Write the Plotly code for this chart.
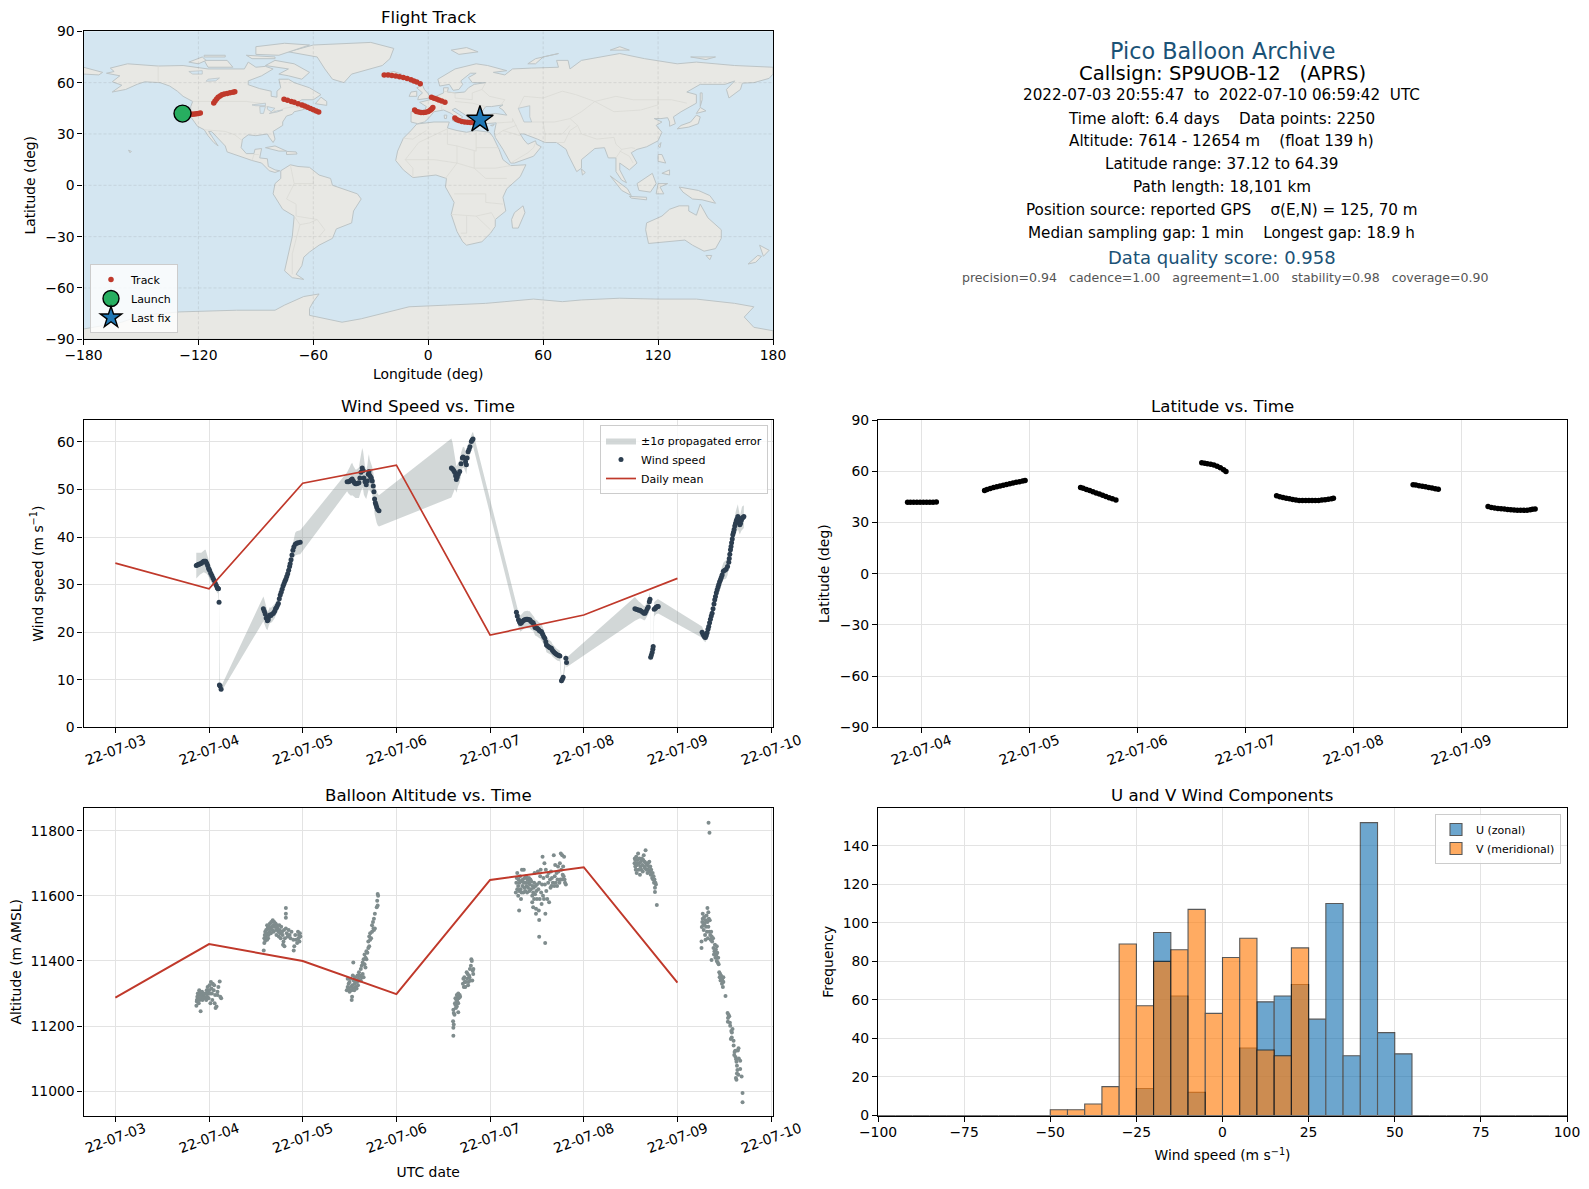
#load in packages
import numpy as np
import pandas as pd
import plotly.graph_objects as go

W = 1589
H = 1189

#colours
water_color = '#d4e6f1'
land_color = '#e8e8e4'
coast_color = '#bcc4c6'
border_color = '#dadad6'
red = '#c0392b'
navy = '#2c3e50'
gray = '#7f8c8d'
title_blue = '#1a5276'
grid_color = '#e3e3e3'

#summary text in the top right corner: text, centre x and y in px, size, colour
info_text = ['Pico Balloon Archive',
             'Callsign: SP9UOB-12   (APRS)',
             '2022-07-03 20:55:47  to  2022-07-10 06:59:42  UTC',
             'Time aloft: 6.4 days    Data points: 2250',
             'Altitude: 7614 - 12654 m    (float 139 h)',
             'Latitude range: 37.12 to 64.39',
             'Path length: 18,101 km',
             'Position source: reported GPS    σ(E,N) = 125, 70 m',
             'Median sampling gap: 1 min    Longest gap: 18.9 h',
             'Data quality score: 0.958',
             'precision=0.94   cadence=1.00   agreement=1.00   stability=0.98   coverage=0.90']
info_x = [1222, 1222, 1221.5, 1221.5, 1221.5, 1221.5, 1221.5, 1221.5, 1221.5, 1221.5, 1225]
info_y = [50.5, 73.3, 95.5, 118.8, 140.9, 163.9, 187.2, 210, 233, 257.5, 277.5]
info_size = [22.3, 19.6, 15.2, 15.2, 15.2, 15.2, 15.2, 15.2, 15.2, 18, 12.55]
info_color = [title_blue, 'black', 'black', 'black', 'black', 'black', 'black', 'black', 'black', title_blue, '#555555']

#ground track, lon / lat in degrees
track_lon = [-128, -127, -126, -125, -124, -123, -122, -121, -120, -119,
             -112, -111.3, -110.5, -109.7, -108.7, -107.7, -106.5, -105, -103.5, -102, -101,
             -75.3, -73.5, -71.5, -70, -68, -66, -64.5, -63, -61.5, -60, -58.5, -57.2,
             -23, -21, -19, -17, -15, -13, -11, -9, -7.5, -6, -4.2,
             -7.1, -6.2, -5, -3.8, -2.5, -1.3, 0, 1, 1.8, 2.4,
             1.7, 3, 4.3, 5.5, 7, 8.7,
             13.9, 14.8, 16, 17.5, 19, 20.5, 22, 23.5, 25, 26, 27]
track_lat = [41.8, 41.8, 41.8, 41.7, 41.6, 41.5, 41.6, 41.8, 42, 42.2,
             48.1, 49.3, 50.4, 51.4, 52.2, 52.9, 53.3, 53.7, 54.1, 54.4, 54.6,
             50.3, 49.7, 49, 48.5, 47.7, 47, 46.3, 45.6, 44.9, 44.2, 43.4, 42.9,
             64.5, 64.5, 64.2, 63.9, 63.5, 63, 62.4, 61.7, 61, 60.3, 59.4,
             44, 43.2, 42.8, 42.6, 42.5, 42.7, 43.2, 43.8, 44.6, 45.4,
             51.4, 50.9, 50.5, 49.9, 49.3, 48.6,
             39.3, 38.4, 37.8, 37.3, 37, 36.8, 36.7, 36.6, 37, 37.6, 38.4]
launch_lon = [-128.3]
launch_lat = [41.9]
last_lon = [27]
last_lat = [38.4]

#land outlines
north_america = [(-168, 65.5), (-164, 66.5), (-166, 68.5), (-157, 71), (-141, 69.7), (-128, 70), (-115, 68), (-108, 68),
                 (-96, 68), (-94, 72), (-90, 69), (-85, 69.5), (-81, 68), (-87, 64), (-94, 61), (-94, 58.8), (-88, 56.5),
                 (-82, 55), (-82, 52), (-79, 51.5), (-79, 55), (-77, 57), (-78, 62), (-73, 62), (-70, 60), (-66, 58.5),
                 (-62, 57), (-56, 53), (-60, 50), (-66, 50), (-70, 47), (-65, 48.5), (-65, 46), (-61, 46), (-66, 44),
                 (-70, 43), (-71, 41.5), (-74, 40.5), (-76, 37), (-76, 35), (-81, 31.5), (-80, 27), (-81, 25), (-83, 28),
                 (-84, 30), (-90, 29), (-94, 29.5), (-97, 27), (-97.7, 22), (-95, 18.5), (-91, 18.5), (-90.5, 21), (-87, 21.5),
                 (-88, 16), (-84, 15.5), (-83.5, 11), (-80, 9), (-77.5, 8.5), (-80, 7.5), (-83, 8.5), (-87, 13), (-92, 14.5),
                 (-96, 16), (-105, 19.5), (-106, 23), (-110, 27.5), (-113, 31.3), (-114.7, 31.5), (-112, 27), (-109.7, 23),
                 (-112, 25), (-115, 29), (-117, 32.5), (-120.5, 34.5), (-124, 40), (-124, 46), (-123, 49), (-128, 52),
                 (-131, 55), (-135, 58), (-140, 60), (-148, 60.5), (-152, 59), (-158, 56), (-165, 54.5), (-160, 58.5),
                 (-165, 60.5), (-161, 64)]
south_america = [(-77, 8.5), (-72, 12), (-68, 11), (-62, 10.5), (-57, 6), (-51, 4), (-50, 0), (-44, -2.5), (-37, -5), (-35, -8),
                 (-39, -15), (-40, -22), (-48, -25.5), (-50, -31), (-57, -35), (-62, -39), (-65, -42), (-66, -47), (-69, -52),
                 (-65, -55), (-71, -54), (-75, -50), (-73, -40), (-71, -30), (-70, -18), (-76, -14), (-81, -5), (-80, 1), (-77, 4)]
africa = [(-6, 35.8), (3, 37), (11, 37), (10, 33.5), (15, 32), (20, 31), (25, 32), (32, 31), (34, 28), (37, 21), (39, 15),
          (43, 11.5), (51, 12), (48, 5), (41, -2), (39, -7), (40.5, -15), (35, -20), (35, -24), (32.5, -28), (28, -33), (20, -35),
          (18, -33), (15, -27), (12, -17), (13.5, -10), (9, -1), (9.5, 4), (4, 6), (-4, 5), (-8, 4.5), (-13, 9), (-17, 14.5),
          (-16, 20), (-13, 27.5), (-9, 32)]
eurasia = [(-9, 37), (-9, 43), (-2, 43.5), (-1, 46), (-4.5, 48.5), (1, 50), (4, 52), (8, 54), (8, 57), (10.5, 57), (10, 54.5),
           (14, 54), (19, 54.5), (21, 57), (24, 59), (30, 60), (23, 60), (21, 63), (25, 65.5), (22, 65.5), (17, 61), (18, 59),
           (16, 56), (13, 55.5), (11, 59), (6, 58), (5, 62), (14, 68), (25, 71), (31, 70), (41, 67), (34, 66), (40, 64.5),
           (44, 68), (54, 68.5), (68, 69), (67, 73), (73, 73), (74, 68), (80, 73), (100, 77), (113, 74), (130, 71), (140, 72),
           (160, 70), (180, 69), (180, 65), (178, 62.5), (170, 60), (164, 59.7), (163, 56), (157, 51), (155.7, 56), (160, 61),
           (155, 59), (142, 59), (135, 54.5), (140, 53), (140, 48), (132, 43), (128, 40), (129, 36), (126, 34.5), (126, 37),
           (125, 39.5), (121.5, 39), (118, 39), (122, 37), (119, 35), (122, 31), (120, 26), (114, 22.5), (109, 21), (106, 19),
           (109, 13), (105, 9), (100, 13), (100, 9), (103.5, 1.5), (101, 3), (98, 8), (98, 16), (94, 16), (92, 22), (87, 21.5),
           (80, 15), (80, 10), (77.5, 8), (73, 18), (72, 21), (67, 25), (61, 25), (57, 27), (50, 30), (48, 30), (50, 26.5),
           (52, 24), (56, 26), (56.5, 24), (59, 22.5), (55, 17), (45, 13), (43, 13), (39, 21), (35, 28), (34.5, 31), (35.5, 36.5),
           (30, 36), (27, 37), (26, 40), (29, 41), (35, 42), (41, 41), (39, 44), (37, 45.5), (39, 47), (33, 46), (30, 46),
           (28, 43), (26, 41), (23, 40.5), (23, 37), (19.5, 41), (14, 45), (12.5, 44), (18, 40), (16, 38), (12, 42), (8, 44),
           (3, 43), (0, 39), (-2, 37), (-5.5, 36)]
australia = [(114, -22), (122, -18), (126, -14), (131, -12), (136, -12), (136, -15), (140, -17.5), (142, -11), (146, -19),
             (153, -26), (153, -31), (150, -37), (144, -38.5), (138, -35), (134, -32), (124, -33), (115, -34), (113.5, -26)]
antarctica = [(-180, -90), (-180, -84), (-160, -80), (-150, -76), (-130, -74), (-100, -73), (-80, -73), (-75, -70), (-65, -65),
              (-57, -63.5), (-60, -68), (-62, -72), (-62, -76), (-45, -80), (-35, -78), (-20, -74), (-10, -71), (10, -70), (30, -69),
              (40, -68), (55, -66.5), (70, -68), (80, -67), (100, -66), (120, -66.5), (140, -66.5), (160, -69), (170, -71),
              (165, -77), (170, -83), (180, -85), (180, -90)]
greenland = [(-73, 78), (-60, 82), (-30, 83.5), (-18, 80), (-20, 74), (-24, 70), (-40, 65), (-44, 60), (-50, 62), (-54, 68), (-58, 75)]
islands = [[(-80, 73), (-70, 71), (-62, 66), (-66, 62), (-73, 64), (-78, 65), (-73, 68), (-85, 70)],
           [(-117, 73), (-105, 73), (-102, 69), (-115, 69)],
           [(-90, 76.5), (-78, 76), (-62, 82), (-75, 83), (-90, 81)],
           [(-125, 72), (-118, 75), (-116, 73), (-120, 71)],
           [(-95, 76), (-80, 75), (-80, 74), (-92, 74)],
           [(-117, 76), (-106, 76), (-106, 75), (-117, 75)],
           [(-59, 47.7), (-53, 46.7), (-53, 49), (-56, 51.5)],
           [(-85, 22), (-80, 23), (-74, 20), (-78, 20)],
           [(-74, 19.8), (-69, 19.5), (-68.5, 18.3), (-74, 18)],
           [(-156.5, 20.5), (-155, 19.8), (-155.7, 19)],
           [(-180, 69), (-170, 66), (-172, 64.5), (-180, 65)],
           [(49.5, -12), (50.5, -16), (47, -25), (44, -25), (43.5, -20), (45, -16)],
           [(-5.5, 50), (1, 51), (0, 53.5), (-2, 56), (-3, 58.5), (-6, 57), (-3, 54), (-5, 52)],
           [(-10, 52), (-6, 52), (-6, 55), (-9, 54.5)],
           [(-24, 65), (-18, 66.5), (-14, 65), (-19, 63.5)],
           [(12, 79), (20, 80.5), (26, 78), (16, 76.5)],
           [(52, 71), (56, 74), (68, 77), (60, 75), (56, 71)],
           [(95, 79), (105, 79), (100, 81)],
           [(137, 75), (150, 75), (145, 73.5)],
           [(130, 33), (136, 34), (141, 36), (142, 40), (140, 41), (137, 37), (132, 35)],
           [(140, 42), (145, 43.5), (142, 45.5)],
           [(142, 46), (143, 50), (143, 54), (142, 54)],
           [(120, 23), (121.5, 25), (121, 22)],
           [(80, 9.5), (82, 7.5), (80.5, 6)],
           [(109, 1), (117, 7), (119, 1), (116, -4), (110, -3)],
           [(95, 5.5), (104, -2), (106, -6), (101, -3)],
           [(105, -6.5), (114, -7), (114, -8.5), (106, -7.5)],
           [(119, -5), (120, 1), (125, 1), (121, -1), (123, -5)],
           [(131, -1), (141, -3), (147, -6), (150, -10.5), (143, -8.5), (138, -8), (133, -4)],
           [(120, 18), (122, 18), (124, 13), (120, 14)],
           [(122, 7), (126, 9), (126, 6)],
           [(145, -41), (148, -41), (147, -43.5)],
           [(167, -46), (172, -41), (174, -41.5), (171, -45)],
           [(173, -35), (178, -38), (175, -41.5), (174, -38)],
           [(12.5, 38), (15.5, 38), (15, 36.7)],
           [(32.5, 35), (34.5, 35.5), (33.5, 34.7)],
           [(8.3, 41), (9.7, 41), (9.5, 39), (8.5, 39)]]
lakes = [[(47, 45), (53, 46.5), (53, 40), (54, 37), (50, 37), (49, 40)],
         [(-92, 47), (-85, 48), (-85, 46.5), (-90, 46.5)],
         [(-88, 46), (-85, 46), (-86, 42), (-87.7, 42)],
         [(-84, 46), (-80, 45), (-82, 43), (-84, 44.5)],
         [(-83, 42), (-79, 43.5), (-76, 44), (-79, 42.8)],
         [(-125, 66.5), (-118, 67), (-118, 65), (-123, 65)],
         [(-115, 62), (-109, 62.7), (-111, 61), (-116, 60.8)]]
borders = [[(-123, 49), (-95, 49), (-88, 48), (-83, 45), (-79, 43), (-75, 45), (-70, 46), (-67, 45)],
           [(-141, 70), (-141, 60)],
           [(-117, 32.5), (-106, 31.5), (-101, 29.5), (-97, 26)],
           [(-92, 14.5), (-91, 18), (-88.5, 18)],
           [(-72, 12), (-70, 1), (-74, -8), (-69, -11), (-69, -18), (-58, -20), (-54, -26), (-57, -30)],
           [(-60, 5), (-60, 1), (-70, 1)],
           [(-70, -18), (-67, -23), (-71, -40), (-71, -52)],
           [(-58, -20), (-62, -22), (-67, -23)],
           [(-8, 4.5), (-8, 10), (-12, 15), (-5, 25), (10, 33)],
           [(-13, 27.5), (-8, 27), (-1, 32)],
           [(10, 33), (10, 24), (15, 23), (25, 20), (25, 32)],
           [(25, 22), (37, 22)],
           [(15, 23), (15, 13), (9, 4)],
           [(-12, 15), (3, 15), (15, 13), (24, 10), (35, 10), (43, 11.5)],
           [(24, 20), (24, 10), (30, 4), (41, 4)],
           [(13.5, -5), (30, -5), (30, -10), (39, -11)],
           [(12, -17), (25, -18), (33, -16), (35, -20)],
           [(20, -18), (20, -28), (17, -28)],
           [(25, -18), (29, -22), (32.5, -26)],
           [(-1, 43), (3, 43)], [(2, 50), (8, 49), (7, 46), (7, 44)],
           [(8, 55), (14, 54), (14, 51), (23, 50), (23, 54)],
           [(14, 49), (23, 48), (30, 46)], [(30, 60), (28, 56), (23, 54)],
           [(28, 56), (32, 52), (40, 50), (38, 47)],
           [(47, 45), (50, 52), (60, 51), (70, 55), (77, 53), (87, 49)],
           [(87, 49), (98, 52), (107, 50), (120, 50), (127, 50), (135, 48)],
           [(87, 49), (80, 43), (74, 39), (78, 35), (80, 30), (88, 27), (97, 28), (98, 24), (101, 21), (106, 22), (108, 21.5)],
           [(87, 49), (97, 43), (111, 44), (120, 47), (120, 50)],
           [(54, 37), (60, 37), (66, 37), (74, 39)],
           [(48, 30), (46, 35), (44, 39), (44, 37), (36, 36.5)],
           [(61, 25), (61, 30), (60, 37)], [(61, 30), (70, 30), (74, 35)],
           [(67, 25), (71, 25), (74, 32), (78, 35)],
           [(35, 29), (39, 32), (48, 29)], [(46, 35), (39, 32)],
           [(43, 13), (52, 19), (55, 22), (56, 25)],
           [(101, 21), (98, 16)], [(100, 20), (105, 17), (107, 13)]]

#axis ticks
lon_ticks = [-180, -120, -60, 0, 60, 120, 180]
lat_ticks = [-90, -60, -30, 0, 30, 60, 90]
speed_ticks = [0, 10, 20, 30, 40, 50, 60]
alt_ticks = [11000, 11200, 11400, 11600, 11800]
hist_x_ticks = [-100, -75, -50, -25, 0, 25, 50, 75, 100]
hist_y_ticks = [0, 20, 40, 60, 80, 100, 120, 140]
wind_dates = ['2022-07-03', '2022-07-04', '2022-07-05', '2022-07-06', '2022-07-07', '2022-07-08', '2022-07-09', '2022-07-10']
wind_date_labels = ['22-07-03', '22-07-04', '22-07-05', '22-07-06', '22-07-07', '22-07-08', '22-07-09', '22-07-10']
lat_dates = ['2022-07-04', '2022-07-05', '2022-07-06', '2022-07-07', '2022-07-08', '2022-07-09']
lat_date_labels = ['22-07-04', '22-07-05', '22-07-06', '22-07-07', '22-07-08', '22-07-09']

#wind speed vs time, times are day of July 2022
wind_day = [3.864, 3.875, 3.885, 3.893, 3.905, 3.918, 3.930, 3.943, 3.955, 3.964,
            3.975, 3.985, 3.995, 4.005, 4.018, 4.030, 4.042, 4.054, 4.066, 4.078,
            4.089, 4.097, 4.100, 4.107, 4.111, 4.118, 4.129,
            4.58, 4.59, 4.60, 4.61, 4.623, 4.632, 4.64, 4.65, 4.66, 4.675,
            4.687, 4.70, 4.71, 4.72, 4.73, 4.74, 4.75, 4.76, 4.77, 4.78,
            4.79, 4.80, 4.81, 4.82, 4.83, 4.84, 4.85, 4.86, 4.866, 4.875,
            4.885, 4.895, 4.905, 4.92, 4.935, 4.95, 4.973,
            5.474, 5.49, 5.505, 5.515, 5.528, 5.54, 5.552, 5.563, 5.575, 5.588,
            5.60, 5.61, 5.622, 5.635, 5.645, 5.653, 5.665, 5.678, 5.69, 5.70,
            5.707, 5.715, 5.725, 5.732, 5.742, 5.753, 5.76, 5.767, 5.775, 5.782,
            5.789, 5.80, 5.814,
            6.587, 6.60, 6.612, 6.622, 6.632, 6.64, 6.65, 6.66, 6.676, 6.69,
            6.704, 6.711, 6.725, 6.738, 6.747, 6.755, 6.765, 6.775, 6.785, 6.80,
            6.81, 6.818,
            7.281, 7.29, 7.303, 7.313, 7.324, 7.335, 7.347, 7.36, 7.37, 7.385,
            7.40, 7.412, 7.424, 7.435, 7.447, 7.46, 7.47, 7.48, 7.492, 7.502,
            7.515, 7.527, 7.538, 7.549, 7.56, 7.572, 7.584, 7.595, 7.602, 7.615,
            7.628, 7.64, 7.655, 7.665, 7.678, 7.691, 7.705, 7.72, 7.735, 7.745,
            7.762, 7.771, 7.78, 7.809, 7.816,
            8.546, 8.56, 8.575, 8.59, 8.60, 8.615, 8.63, 8.643, 8.653, 8.665,
            8.678, 8.689, 8.70, 8.707, 8.714, 8.722, 8.73, 8.737, 8.741, 8.752,
            8.762, 8.77, 8.777, 8.787, 8.795,
            9.263, 9.272, 9.28, 9.29, 9.299, 9.308, 9.317, 9.326, 9.334, 9.343,
            9.352, 9.361, 9.37, 9.38, 9.39, 9.398, 9.406, 9.415, 9.424, 9.433,
            9.441, 9.45, 9.459, 9.468, 9.477, 9.49, 9.505, 9.52, 9.535, 9.548,
            9.553, 9.559, 9.566, 9.572, 9.578, 9.585, 9.591, 9.598, 9.605, 9.612,
            9.62, 9.628, 9.636, 9.645, 9.652, 9.66, 9.666, 9.673, 9.682, 9.69, 9.70, 9.709]
wind_speed = [34.0, 34.1, 34.2, 34.3, 34.4, 34.5, 34.7, 34.9, 34.9, 34.9,
              34.5, 34.0, 33.4, 33.0, 32.4, 31.9, 31.4, 30.9, 30.3, 29.8,
              29.3, 29.2, 29.1, 26.3, 8.9, 8.7, 8.0,
              24.9, 24.4, 23.8, 23.0, 22.4, 22.6, 23.3, 23.6, 23.5, 23.8,
              24.0, 24.4, 24.9, 25.2, 25.6, 26.0, 27.0, 27.8, 28.4, 29.0,
              29.7, 30.2, 30.7, 31.1, 31.7, 32.3, 33.0, 33.8, 34.4, 35.2,
              36.2, 37.2, 37.9, 38.5, 38.7, 38.8, 38.9,
              51.6, 51.6, 51.8, 52.0, 52.2, 51.8, 51.4, 51.2, 51.2, 51.3,
              51.4, 52.4, 53.6, 54.5, 54.0, 52.4, 51.6, 51.0, 51.8, 53.2,
              53.8, 53.0, 52.6, 52.4, 51.8, 50.7, 49.5, 48.0, 47.2, 46.8,
              46.3, 45.8, 45.5,
              54.5, 54.3, 54.0, 53.6, 52.9, 52.1, 52.6, 53.2, 53.8, 55.4,
              56.6, 56.8, 56.6, 55.8, 55.2, 56.6, 57.9, 58.4, 59.0, 60.1,
              60.4, 60.6,
              24.2, 23.4, 22.6, 22.2, 21.8, 22.0, 22.3, 22.5, 22.6, 22.7,
              22.7, 22.6, 22.6, 22.3, 22.1, 22.0, 21.5, 21.0, 20.9, 20.8,
              20.6, 20.3, 20.2, 20.1, 19.6, 19.1, 18.7, 18.0, 17.3, 17.1,
              16.9, 16.7, 16.6, 16.2, 15.9, 15.6, 15.4, 15.2, 15.1, 15.0,
              9.8, 10.1, 10.5, 14.5, 13.6,
              24.9, 24.8, 24.7, 24.6, 24.6, 24.4, 24.2, 24.0, 24.0, 24.4,
              24.9, 25.3, 26.4, 26.9, 14.7, 15.2, 15.7, 16.4, 17.0, 24.8,
              25.0, 25.2, 25.3, 25.4, 25.4,
              20.0, 19.6, 19.3, 19.0, 18.9, 19.3, 19.9, 20.6, 21.2, 22.0,
              22.7, 23.4, 24.0, 24.9, 25.9, 26.8, 27.5, 28.3, 28.9, 29.5,
              30.0, 30.6, 31.0, 31.5, 32.0, 32.8, 33.0, 33.2, 33.8, 34.7,
              35.5, 36.4, 37.3, 38.0, 38.8, 39.6, 40.5, 41.0, 41.6, 42.3,
              42.9, 43.4, 43.8, 44.3, 43.6, 43.0, 42.6, 42.9, 43.5, 44.0, 44.1, 44.3]
wind_sigma = [2.7, 2.6, 2.5, 2.4, 2.3, 2.2, 2.2, 2.3, 2.4, 2.4,
              2.2, 2.0, 1.8, 1.6, 1.4, 1.3, 1.2, 1.2, 1.2, 1.2,
              1.1, 1.0, 1.0, 0.8, 0.7, 0.7, 0.6,
              2.6, 2.5, 2.4, 2.3, 2.0, 1.9, 1.8, 1.7, 1.6, 1.6,
              1.6, 1.5, 1.4, 1.4, 1.4, 1.4, 1.4, 1.4, 1.4, 1.4,
              1.4, 1.4, 1.4, 1.4, 1.4, 1.4, 1.5, 1.6, 1.7, 1.8,
              1.9, 2.0, 2.2, 2.4, 2.5, 2.5, 2.5,
              2.0, 2.5, 3.0, 3.3, 3.4, 3.2, 3.0, 3.0, 3.0, 3.1,
              3.2, 3.6, 4.0, 4.2, 4.0, 3.5, 3.2, 3.0, 3.3, 3.6,
              3.6, 3.3, 3.1, 3.0, 2.9, 2.9, 3.0, 3.1, 3.2, 3.2,
              3.3, 3.3, 3.3,
              6.2, 5.5, 4.5, 3.5, 3.0, 2.8, 2.6, 2.5, 2.4, 2.3,
              2.2, 2.2, 2.2, 2.1, 2.0, 2.0, 1.9, 1.8, 1.7, 1.6,
              1.5, 1.5,
              1.5, 1.5, 1.6, 1.6, 1.7, 1.7, 1.8, 1.8, 1.8, 1.8,
              1.8, 1.8, 1.8, 1.8, 1.7, 1.7, 1.7, 1.7, 1.7, 1.7,
              1.6, 1.6, 1.6, 1.6, 1.6, 1.6, 1.6, 1.5, 1.5, 1.5,
              1.4, 1.4, 1.4, 1.3, 1.3, 1.2, 1.2, 1.2, 1.2, 1.1,
              0.8, 0.8, 0.8, 1.0, 1.0,
              2.5, 2.2, 2.0, 1.8, 1.7, 1.6, 1.5, 1.5, 1.5, 1.5,
              1.5, 1.5, 1.5, 1.5, 0.8, 0.8, 0.8, 0.8, 0.8, 1.5,
              1.5, 1.5, 1.5, 1.5, 1.5,
              1.2, 1.1, 1.1, 1.0, 1.0, 1.0, 1.0, 1.1, 1.1, 1.1,
              1.2, 1.2, 1.2, 1.3, 1.3, 1.4, 1.4, 1.4, 1.5, 1.5,
              1.5, 1.6, 1.6, 1.7, 1.7, 1.8, 1.9, 1.9, 1.8, 1.7,
              1.7, 1.7, 1.7, 1.7, 1.7, 1.8, 1.8, 1.8, 1.9, 2.0,
              2.2, 2.4, 2.6, 2.6, 2.4, 2.2, 2.0, 2.0, 2.2, 2.4, 2.4, 2.4]
mean_day = [3, 4, 5, 6, 7, 8, 9]
mean_speed = [34.5, 29.1, 51.3, 55.1, 19.4, 23.6, 31.3]
mean_alt = [11287, 11452, 11400, 11298, 11649, 11688, 11333]

#latitude vs time
lat_day = [3.874, 3.90, 3.93, 3.96, 3.99, 4.02, 4.05, 4.08, 4.11, 4.14,
           4.587, 4.61, 4.64, 4.67, 4.70, 4.73, 4.76, 4.79, 4.82, 4.85, 4.88, 4.91, 4.94, 4.962,
           5.476, 5.50, 5.53, 5.56, 5.59, 5.62, 5.65, 5.68, 5.71, 5.74, 5.77, 5.803,
           6.598, 6.625, 6.65, 6.68, 6.71, 6.74, 6.77, 6.80, 6.822,
           7.291, 7.32, 7.35, 7.38, 7.41, 7.44, 7.47, 7.50, 7.53, 7.56, 7.59, 7.62, 7.65, 7.68, 7.71, 7.74, 7.77, 7.80, 7.817,
           8.555, 8.58, 8.61, 8.64, 8.67, 8.70, 8.73, 8.76, 8.788,
           9.249, 9.28, 9.31, 9.34, 9.37, 9.40, 9.43, 9.46, 9.49, 9.52, 9.55, 9.58, 9.61, 9.64, 9.66, 9.685]
lat_deg = [41.8, 41.8, 41.8, 41.8, 41.8, 41.8, 41.8, 41.8, 41.85, 41.9,
           48.75, 49.3, 49.9, 50.4, 50.9, 51.4, 51.8, 52.2, 52.7, 53.1, 53.5, 53.9, 54.3, 54.5,
           50.5, 50.0, 49.3, 48.7, 48.0, 47.3, 46.6, 45.9, 45.2, 44.5, 43.9, 43.2,
           64.9, 64.6, 64.4, 64.1, 63.6, 62.9, 62.0, 60.8, 59.8,
           45.6, 45.1, 44.6, 44.2, 43.8, 43.4, 43.1, 42.9, 42.8, 42.8, 42.8, 42.8, 42.8, 42.9, 43.1, 43.3, 43.6, 43.9, 44.2,
           52.1, 51.9, 51.5, 51.2, 50.9, 50.5, 50.2, 49.8, 49.5,
           39.3, 38.7, 38.4, 38.2, 38.0, 37.8, 37.6, 37.5, 37.3, 37.2, 37.1, 37.1, 37.2, 37.4, 37.7, 37.9, 38.3]

#altitude vs time
alt_day = [3.865, 3.87, 3.875, 3.87, 3.88, 3.885, 3.89, 3.89, 3.895, 3.90, 3.90, 3.905, 3.91, 3.91, 3.915, 3.92, 3.925, 3.93,
           3.935, 3.94, 3.945, 3.95, 3.96, 3.965, 3.97, 3.975, 3.98, 3.985, 3.99, 3.995, 4.0, 4.005, 4.01, 4.015, 4.02, 4.025,
           4.03, 4.035, 4.04, 4.05, 4.055, 4.06, 4.065, 4.07, 4.08, 4.09, 4.09, 4.10, 4.114, 4.12, 4.13,
           4.584, 4.59, 4.59, 4.595, 4.60, 4.60, 4.605, 4.61, 4.615, 4.62, 4.62, 4.625, 4.63, 4.635, 4.64, 4.645, 4.65, 4.655,
           4.66, 4.665, 4.67, 4.675, 4.68, 4.685, 4.69, 4.695, 4.70, 4.71, 4.715, 4.72, 4.725, 4.73, 4.74, 4.745, 4.75, 4.755,
           4.76, 4.765, 4.77, 4.78, 4.785, 4.79, 4.795, 4.80, 4.805, 4.81, 4.82, 4.82, 4.82, 4.82, 4.83, 4.84, 4.85, 4.86, 4.87,
           4.88, 4.90, 4.904, 4.91, 4.92, 4.93, 4.94, 4.95, 4.955, 4.96, 4.965, 4.97, 4.975,
           5.47, 5.48, 5.48, 5.49, 5.49, 5.50, 5.50, 5.51, 5.515, 5.52, 5.523, 5.527, 5.53, 5.535, 5.54, 5.54, 5.545, 5.55,
           5.555, 5.56, 5.565, 5.57, 5.575, 5.58, 5.585, 5.59, 5.595, 5.60, 5.605, 5.61, 5.62, 5.62, 5.63, 5.63, 5.64, 5.64,
           5.65, 5.65, 5.66, 5.66, 5.67, 5.67, 5.68, 5.68, 5.69, 5.70, 5.70, 5.71, 5.71, 5.72, 5.72, 5.73, 5.74, 5.74, 5.75,
           5.755, 5.76, 5.76, 5.77, 5.77, 5.79, 5.795, 5.80, 5.805, 5.80,
           6.608, 6.608, 6.612, 6.605, 6.608, 6.612, 6.62, 6.625, 6.63, 6.63, 6.635, 6.64, 6.645, 6.645, 6.65, 6.655, 6.66,
           6.66, 6.665, 6.66, 6.675, 6.68, 6.71, 6.715, 6.72, 6.725, 6.73, 6.735, 6.74, 6.75, 6.755, 6.76, 6.765, 6.77, 6.775,
           6.78, 6.785, 6.79, 6.795, 6.80, 6.805, 6.81, 6.815, 6.82, 6.822,
           7.275, 7.28, 7.285, 7.29, 7.29, 7.30, 7.30, 7.305, 7.31, 7.31, 7.315, 7.32, 7.325, 7.33, 7.33, 7.335, 7.34, 7.345,
           7.35, 7.355, 7.36, 7.36, 7.365, 7.37, 7.375, 7.38, 7.385, 7.39, 7.395, 7.40, 7.405, 7.41, 7.415, 7.42, 7.425, 7.43,
           7.435, 7.44, 7.45, 7.45, 7.455, 7.46, 7.46, 7.465, 7.47, 7.47, 7.475, 7.48, 7.485, 7.49, 7.49, 7.495, 7.50, 7.50,
           7.51, 7.515, 7.52, 7.524, 7.524, 7.525, 7.53, 7.535, 7.54, 7.545, 7.55, 7.555, 7.56, 7.565, 7.57, 7.575, 7.58, 7.585,
           7.588, 7.59, 7.595, 7.60, 7.61, 7.61, 7.62, 7.625, 7.63, 7.64, 7.645, 7.65, 7.655, 7.66, 7.67, 7.68, 7.685, 7.69,
           7.695, 7.70, 7.71, 7.715, 7.72, 7.725, 7.73, 7.74, 7.745, 7.75, 7.755, 7.76, 7.765, 7.77, 7.775, 7.78, 7.785, 7.79,
           7.795, 7.80, 7.809,
           8.542, 8.545, 8.55, 8.55, 8.555, 8.56, 8.56, 8.565, 8.57, 8.575, 8.58, 8.585, 8.59, 8.595, 8.60, 8.605, 8.61, 8.615,
           8.62, 8.625, 8.63, 8.635, 8.64, 8.645, 8.65, 8.655, 8.66, 8.665, 8.67, 8.675, 8.68, 8.685, 8.69, 8.695, 8.70, 8.705,
           8.71, 8.715, 8.72, 8.73, 8.735, 8.74, 8.745, 8.75, 8.755, 8.76, 8.765, 8.76, 8.77, 8.78,
           9.332, 9.342, 9.257, 9.257, 9.26, 9.265, 9.27, 9.27, 9.275, 9.28, 9.285, 9.29, 9.295, 9.30, 9.30, 9.305, 9.31, 9.315,
           9.32, 9.32, 9.325, 9.33, 9.33, 9.335, 9.34, 9.345, 9.35, 9.355, 9.36, 9.365, 9.37, 9.364, 9.38, 9.385, 9.39, 9.395,
           9.40, 9.405, 9.41, 9.415, 9.42, 9.42, 9.425, 9.43, 9.435, 9.44, 9.446, 9.45, 9.455, 9.46, 9.465, 9.47, 9.475, 9.48,
           9.485, 9.49, 9.49, 9.513, 9.535, 9.553, 9.538, 9.563, 9.588, 9.581, 9.57, 9.599, 9.617, 9.652, 9.606, 9.627, 9.67,
           9.635, 9.67, 9.635, 9.685, 9.624, 9.695, 9.695, 9.54, 9.545, 9.56, 9.575, 9.58, 9.60, 9.61, 9.62, 9.63, 9.645, 9.655,
           9.64, 9.65, 9.63]
alt_m = [11262, 11275, 11290, 11280, 11300, 11285, 11300, 11270, 11310, 11280, 11295, 11305, 11285, 11245, 11300, 11290, 11305, 11280,
         11295, 11285, 11300, 11290, 11285, 11300, 11280, 11310, 11290, 11320, 11300, 11285, 11310, 11325, 11300, 11270, 11335, 11315,
         11300, 11280, 11330, 11310, 11325, 11270, 11295, 11255, 11260, 11305, 11295, 11320, 11337, 11290, 11285,
         11432, 11455, 11470, 11480, 11490, 11462, 11475, 11495, 11485, 11465, 11510, 11500, 11470, 11480, 11505, 11490, 11515, 11500,
         11485, 11520, 11505, 11495, 11525, 11510, 11490, 11520, 11505, 11515, 11495, 11480, 11510, 11500, 11490, 11475, 11510, 11495,
         11485, 11470, 11505, 11490, 11480, 11450, 11460, 11495, 11445, 11470, 11500, 11563, 11545, 11533, 11485, 11475, 11495, 11480, 11470,
         11490, 11465, 11432, 11445, 11480, 11465, 11455, 11490, 11470, 11480, 11460, 11485, 11475,
         11310, 11320, 11345, 11315, 11330, 11305, 11335, 11345, 11320, 11310, 11280, 11290, 11325, 11355, 11315, 11395, 11340, 11310,
         11330, 11350, 11320, 11340, 11315, 11335, 11355, 11325, 11345, 11365, 11340, 11355, 11340, 11375, 11350, 11385, 11360, 11395,
         11350, 11405, 11390, 11420, 11380, 11410, 11405, 11430, 11425, 11440, 11460, 11445, 11475, 11465, 11485, 11470, 11490, 11510, 11520,
         11500, 11530, 11495, 11500, 11545, 11565, 11585, 11570, 11600, 11606,
         11170, 11195, 11205, 11215, 11250, 11240, 11235, 11270, 11265, 11285, 11255, 11280, 11260, 11295, 11275, 11290, 11270,
         11300, 11285, 11242, 11295, 11290, 11330, 11345, 11320, 11350, 11335, 11320, 11335, 11365, 11345, 11360, 11325, 11335, 11355,
         11350, 11375, 11340, 11385, 11405, 11400, 11340, 11370, 11360, 11375,
         11610, 11640, 11655, 11620, 11670, 11600, 11630, 11650, 11615, 11555, 11640, 11660, 11620, 11590, 11645, 11610, 11680, 11630,
         11650, 11610, 11640, 11680, 11625, 11655, 11615, 11640, 11660, 11630, 11610, 11650, 11625, 11640, 11655, 11615, 11635, 11650,
         11620, 11645, 11580, 11600, 11630, 11565, 11610, 11625, 11640, 11590, 11670, 11605, 11630, 11560, 11545, 11615, 11635, 11590,
         11675, 11620, 11555, 11526, 11474, 11640, 11590, 11660, 11680, 11610, 11575, 11635, 11720, 11600, 11655, 11590, 11700, 11635,
         11455, 11545, 11680, 11615, 11660, 11590, 11640, 11670, 11580, 11650, 11625, 11675, 11630, 11655, 11640, 11725, 11630, 11660,
         11695, 11640, 11670, 11630, 11650, 11690, 11675, 11640, 11700, 11650, 11730, 11680, 11650, 11725, 11665, 11690, 11660, 11720,
         11650, 11640, 11635,
         11700, 11715, 11690, 11710, 11680, 11700, 11720, 11670, 11695, 11710, 11730, 11680, 11700, 11715, 11665, 11690, 11705, 11680,
         11715, 11695, 11675, 11710, 11725, 11690, 11705, 11685, 11740, 11700, 11680, 11695, 11670, 11700, 11680, 11690, 11705, 11675,
         11690, 11665, 11680, 11655, 11670, 11650, 11660, 11640, 11650, 11625, 11640, 11612, 11635, 11572,
         11825, 11794, 11440, 11460, 11504, 11520, 11545, 11530, 11510, 11495, 11535, 11515, 11480, 11525, 11465, 11505, 11540, 11490,
         11563, 11520, 11470, 11550, 11505, 11530, 11490, 11525, 11480, 11465, 11490, 11475, 11460, 11403, 11470, 11440, 11420, 11430,
         11450, 11410, 11435, 11420, 11445, 11400, 11425, 11395, 11410, 11390, 11365, 11350, 11360, 11340, 11355, 11345, 11330, 11340,
         11320, 11335, 11350, 11292, 11240, 11230, 11213, 11201, 11191, 11180, 11160, 11155, 11124, 11132, 11111, 11098, 11093,
         11078, 11068, 11054, 11045, 11040, 10994, 10966, 11225, 11235, 11210, 11185, 11165, 11140, 11120, 11105, 11090, 11125, 11100,
         11065, 11050, 11035]

#wind component histogram, 5 m/s bins from -100 to 100
bin_left = [-100, -95, -90, -85, -80, -75, -70, -65, -60, -55, -50, -45, -40, -35, -30, -25, -20, -15, -10, -5,
            0, 5, 10, 15, 20, 25, 30, 35, 40, 45, 50, 55, 60, 65, 70, 75, 80, 85, 90, 95]
u_counts = [0, 0, 0, 0, 0, 0, 0, 0, 0, 0, 0, 0, 0, 0, 0, 14, 95, 62, 12, 0,
            0, 35, 59, 62, 68, 50, 110, 31, 152, 43, 32, 0, 0, 0, 0, 0, 0, 0, 0, 0]
v_counts = [0, 0, 0, 0, 0, 0, 0, 0, 0, 0, 3, 3, 6, 15, 89, 57, 80, 86, 107, 53,
            82, 92, 34, 31, 87, 0, 0, 0, 0, 0, 0, 0, 0, 0, 0, 0, 0, 0, 0, 0]


def july(days):
    #turn day of July numbers into timestamps
    return pd.Timestamp('2022-06-30') + pd.to_timedelta(np.array(days, dtype=float), unit='D')


def split_lines(shapes):
    #join outlines into one list with gaps
    xs = []
    ys = []
    for shape in shapes:
        for p in shape:
            xs.append(p[0])
            ys.append(p[1])
        xs.append(None)
        ys.append(None)
    return xs, ys


def xdom(left, right):
    return [left / W, right / W]


def ydom(top, bottom):
    return [1 - bottom / H, 1 - top / H]


fig = go.Figure()

#flight track map, one trace per land polygon so every fill closes on its own
land = [north_america, south_america, africa, eurasia, australia, antarctica, greenland] + islands
for shape in land:
    closed = list(shape) + [shape[0]]
    fig.add_trace(go.Scatter(x=[p[0] for p in closed], y=[p[1] for p in closed], mode='lines', fill='toself', fillcolor=land_color,
                             line=dict(color=coast_color, width=1), showlegend=False, xaxis='x', yaxis='y', hoverinfo='skip'))
border_x, border_y = split_lines(borders)
fig.add_trace(go.Scatter(x=border_x, y=border_y, mode='lines', line=dict(color=border_color, width=0.8),
                         showlegend=False, xaxis='x', yaxis='y', hoverinfo='skip'))
for shape in lakes:
    closed = list(shape) + [shape[0]]
    fig.add_trace(go.Scatter(x=[p[0] for p in closed], y=[p[1] for p in closed], mode='lines', fill='toself', fillcolor=water_color,
                             line=dict(color=coast_color, width=0.8), showlegend=False, xaxis='x', yaxis='y', hoverinfo='skip'))
grid_lines = [[(t, -90), (t, 90)] for t in lon_ticks[1:-1]] + [[(-180, t), (180, t)] for t in lat_ticks[1:-1]]
grid_x, grid_y = split_lines(grid_lines)
fig.add_trace(go.Scatter(x=grid_x, y=grid_y, mode='lines', line=dict(color='rgba(128,128,128,0.22)', width=0.8, dash='3px,2px'),
                         showlegend=False, xaxis='x', yaxis='y', hoverinfo='skip'))
fig.add_trace(go.Scatter(x=track_lon, y=track_lat, mode='markers', name='Track', legend='legend',
                         marker=dict(color=red, size=5.5), xaxis='x', yaxis='y'))
fig.add_trace(go.Scatter(x=launch_lon, y=launch_lat, mode='markers', name='Launch', legend='legend',
                         marker=dict(color='#27ae60', size=17, line=dict(color='black', width=1.4)), xaxis='x', yaxis='y'))
fig.add_trace(go.Scatter(x=last_lon, y=last_lat, mode='markers', name='Last fix', legend='legend',
                         marker=dict(color='#1f77b4', symbol='star', size=20, line=dict(color='black', width=1.4)), xaxis='x', yaxis='y'))

#wind speed
speed = np.array(wind_speed)
sigma = np.array(wind_sigma)
times = july(wind_day)
band_x = list(times) + list(times[::-1])
band_y = list(speed + sigma) + list((speed - sigma)[::-1])
fig.add_trace(go.Scatter(x=band_x, y=band_y, mode='lines', fill='toself', fillcolor='rgba(127,140,141,0.35)',
                         line=dict(width=0, color='rgba(127,140,141,0.35)'), name='±1σ propagated error', legend='legend2',
                         xaxis='x2', yaxis='y2', hoverinfo='skip'))
fig.add_trace(go.Scatter(x=times, y=speed, mode='markers', name='Wind speed', legend='legend2',
                         marker=dict(color=navy, size=5), xaxis='x2', yaxis='y2'))
fig.add_trace(go.Scatter(x=july(mean_day), y=mean_speed, mode='lines', name='Daily mean', legend='legend2',
                         line=dict(color=red, width=1.7), xaxis='x2', yaxis='y2'))

#latitude
fig.add_trace(go.Scatter(x=july(lat_day), y=lat_deg, mode='markers', marker=dict(color='black', size=5.5),
                         showlegend=False, xaxis='x3', yaxis='y3'))

#altitude
fig.add_trace(go.Scatter(x=july(alt_day), y=alt_m, mode='markers', marker=dict(color=gray, size=4),
                         showlegend=False, xaxis='x4', yaxis='y4'))
fig.add_trace(go.Scatter(x=july(mean_day), y=mean_alt, mode='lines', line=dict(color=red, width=2),
                         showlegend=False, xaxis='x4', yaxis='y4'))

#histogram
bin_mid = np.array(bin_left) + 2.5
fig.add_trace(go.Bar(x=bin_mid, y=u_counts, width=5, name='U (zonal)', legend='legend3', opacity=0.65,
                     marker=dict(color='#1f77b4', line=dict(color='black', width=1.1)), xaxis='x5', yaxis='y5'))
fig.add_trace(go.Bar(x=bin_mid, y=v_counts, width=5, name='V (meridional)', legend='legend3', opacity=0.65,
                     marker=dict(color='#ff7f0e', line=dict(color='black', width=1.1)), xaxis='x5', yaxis='y5'))

frame = dict(showline=True, mirror=True, linecolor='black', linewidth=1.1, ticks='outside', ticklen=5, tickwidth=1.1,
             tickcolor='black', gridcolor=grid_color, gridwidth=1.1, zeroline=False, tickfont=dict(size=13.9),
             layer='above traces', automargin=False)
#date labels lean 20 degrees and sit centred under their ticks
date_style = dict(tickangle=-20, ticklabelshift=29, ticklabelstandoff=-6)
legend_style = dict(font=dict(size=11), bgcolor='rgba(255,255,255,0.8)', bordercolor='#cccccc', borderwidth=1)
left_col = xdom(83.5, 773)
right_col = xdom(878, 1567)
wind_range = [july([2.66])[0], july([10.02])[0]]
lat_range = [july([3.60])[0], july([9.98])[0]]


def axis_title(text, standoff):
    return dict(text=text, font=dict(size=13.9), standoff=standoff)


fig.update_layout(
    width=W, height=H, margin=dict(l=0, r=0, t=0, b=0), autosize=False,
    paper_bgcolor='white', plot_bgcolor='white', font=dict(family='DejaVu Sans', color='black'),
    barmode='overlay', hovermode='closest',
    xaxis=dict(frame, domain=left_col, range=[-180, 180], tickvals=lon_ticks, showgrid=False, ticklabelstandoff=-2, title=axis_title('Longitude (deg)', 7), anchor='y'),
    yaxis=dict(frame, domain=ydom(31.3, 339.3), range=[-90, 90], tickvals=lat_ticks, showgrid=False, title=axis_title('Latitude (deg)', 6), anchor='x'),
    xaxis2=dict(frame, **date_style, domain=left_col, range=wind_range, tickvals=wind_dates, ticktext=wind_date_labels, anchor='y2'),
    yaxis2=dict(frame, domain=ydom(420, 727.3), range=[0, 64.6], tickvals=speed_ticks, title=axis_title('Wind speed (m s<sup>−1</sup>)', 10), anchor='x2'),
    xaxis3=dict(frame, **date_style, domain=right_col, range=lat_range, tickvals=lat_dates, ticktext=lat_date_labels, anchor='y3'),
    yaxis3=dict(frame, domain=ydom(420, 727.3), range=[-90, 90], tickvals=lat_ticks, title=axis_title('Latitude (deg)', 6), anchor='x3'),
    xaxis4=dict(frame, **date_style, domain=left_col, range=wind_range, tickvals=wind_dates, ticktext=wind_date_labels, title=axis_title('UTC date', 12), anchor='y4'),
    yaxis4=dict(frame, domain=ydom(808, 1115.5), range=[10925, 11870], tickvals=alt_ticks, tickformat='d', title=axis_title('Altitude (m AMSL)', 5), anchor='x4'),
    xaxis5=dict(frame, domain=right_col, range=[-100, 100], tickvals=hist_x_ticks, ticklabelstandoff=-1, title=axis_title('Wind speed (m s<sup>−1</sup>)', 11), anchor='y5'),
    yaxis5=dict(frame, domain=ydom(808, 1115.5), range=[0, 159.6], tickvals=hist_y_ticks, title=axis_title('Frequency', 5), anchor='x5'),
    legend=dict(legend_style, x=90 / W, y=1 - 333 / H, xanchor='left', yanchor='bottom'),
    legend2=dict(legend_style, x=768 / W, y=1 - 425 / H, xanchor='right', yanchor='top'),
    legend3=dict(legend_style, x=1561 / W, y=1 - 814 / H, xanchor='right', yanchor='top'),
)

#water behind the map
fig.add_shape(type='rect', xref='x domain', yref='y domain', x0=0, x1=1, y0=0, y1=1, fillcolor=water_color, line_width=0, layer='below')

#subplot titles
panel_titles = ['Flight Track', 'Wind Speed vs. Time', 'Latitude vs. Time', 'Balloon Altitude vs. Time', 'U and V Wind Components']
title_x = [428.3, 428.3, 1222.5, 428.3, 1222.5]
title_y = [17.5, 406, 406, 796, 796]
for text, tx, ty in zip(panel_titles, title_x, title_y):
    fig.add_annotation(text=text, x=tx / W, y=1 - ty / H, xref='paper', yref='paper', showarrow=False,
                       xanchor='center', yanchor='middle', font=dict(size=16.6))

#summary block
for text, tx, ty, size, color in zip(info_text, info_x, info_y, info_size, info_color):
    fig.add_annotation(text=text, x=tx / W, y=1 - ty / H, xref='paper', yref='paper', showarrow=False,
                       xanchor='center', yanchor='middle', font=dict(size=size, color=color))

fig.write_html("out.html", post_script="document.body.style.margin='0';", config=dict(displayModeBar=False))
